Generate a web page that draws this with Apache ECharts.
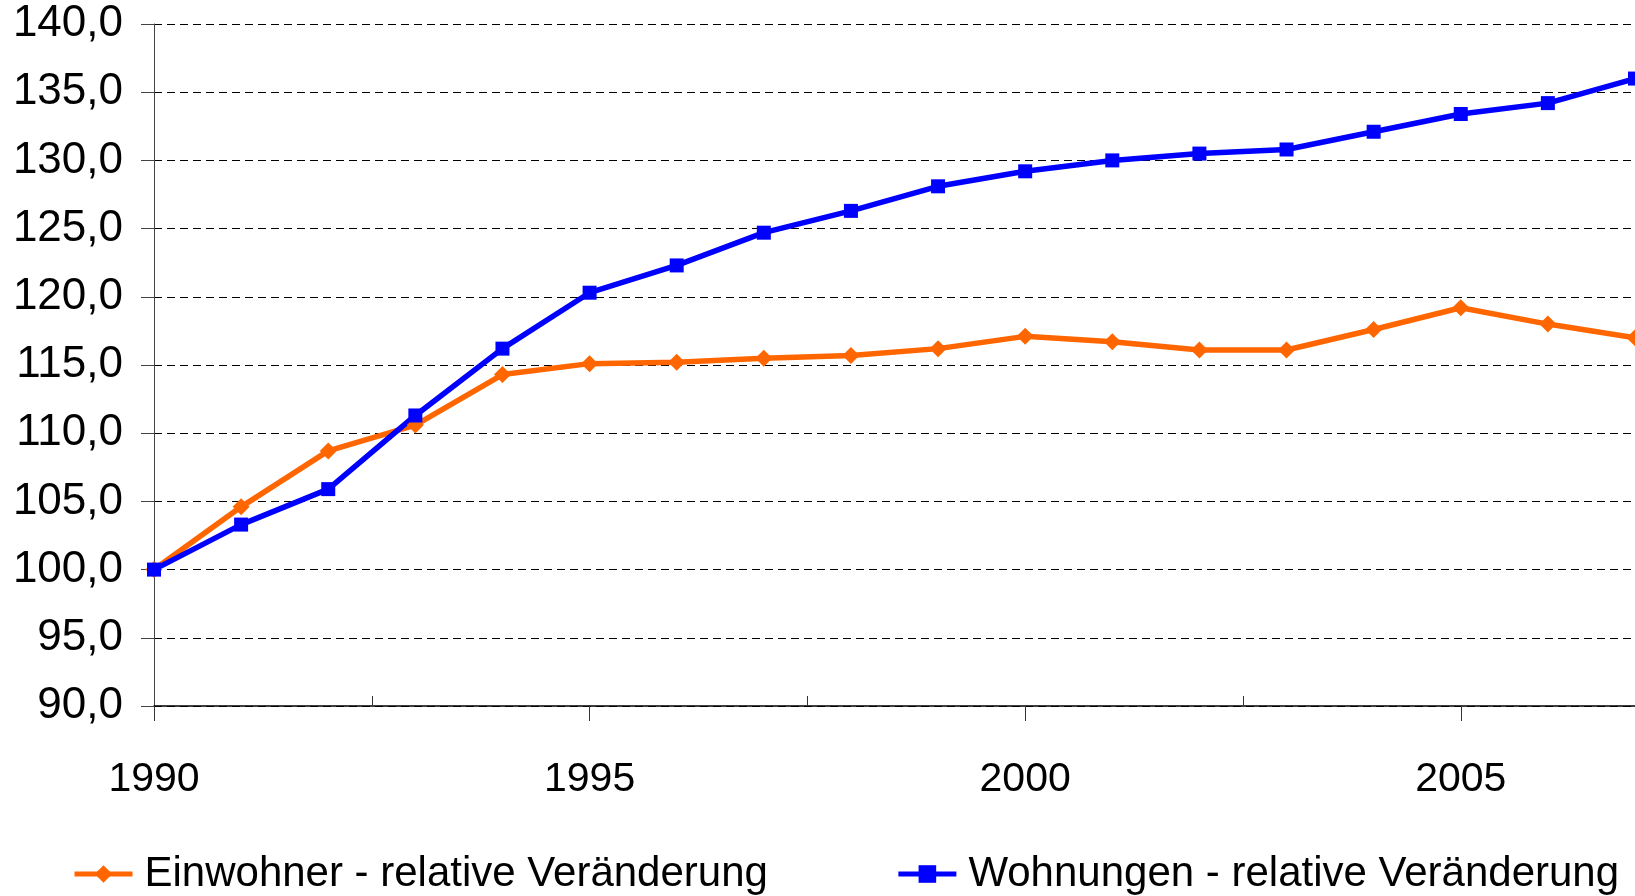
<!DOCTYPE html>
<html>
<head>
<meta charset="utf-8">
<script src="https://cdn.jsdelivr.net/npm/echarts@6/dist/echarts.min.js"></script>
<style>
html, body { margin: 0; padding: 0; background: #fff; }
#chart { width: 1635px; height: 896px; }
</style>
</head>
<body>
<div id="chart"></div>
<script>
var years = [1990, 1991, 1992, 1993, 1994, 1995, 1996, 1997, 1998, 1999, 2000, 2001, 2002, 2003, 2004, 2005, 2006, 2007];
var einwohner = [100.0, 104.6, 108.7, 110.6, 114.3, 115.1, 115.2, 115.5, 115.7, 116.2, 117.1, 116.7, 116.1, 116.1, 117.6, 119.2, 118.0, 117.0];
var wohnungen = [100.0, 103.3, 105.9, 111.3, 116.2, 120.3, 122.3, 124.7, 126.3, 128.1, 129.2, 130.0, 130.5, 130.8, 132.1, 133.4, 134.2, 136.0];
var seriesNames = ['Einwohner - relative Veränderung', 'Wohnungen - relative Veränderung'];
var majorYears = [1990, 1995, 2000, 2005];
var minorYears = [1992.5, 1997.5, 2002.5];

function pairs(vals) {
    return years.map(function (y, i) { return [y, vals[i]]; });
}

var dom = document.getElementById('chart');
var myChart = echarts.init(dom);
var font = 'Liberation Sans, Arial, sans-serif';

var option = {
    animation: false,
    backgroundColor: '#fff',
    grid: { left: 154, top: 24, right: -7, bottom: 190 },
    legend: {
        left: 72,
        top: 853,
        padding: 0,
        itemWidth: 58,
        itemHeight: 22,
        itemGap: 128,
        lineStyle: { width: 5 },
        textStyle: { fontFamily: font, fontSize: 42, color: '#000', padding: [0, 0, 0, 7] },
        data: seriesNames
    },
    xAxis: [
        {
            type: 'value',
            min: 1990,
            max: 2007,
            interval: 5,
            axisLine: { onZero: false, lineStyle: { color: '#000', width: 1.5 } },
            axisTick: { inside: false, length: 15, lineStyle: { color: '#333' }, customValues: majorYears },
            axisLabel: {
                fontFamily: font, fontSize: 41, color: '#000', margin: 53,
                customValues: majorYears,
                formatter: function (v) { return String(v); }
            },
            splitLine: { show: false }
        },
        {
            type: 'value',
            min: 1990,
            max: 2007,
            position: 'bottom',
            axisLine: { show: false, onZero: false },
            axisTick: { inside: true, length: 10, lineStyle: { color: '#333' }, customValues: minorYears },
            axisLabel: { show: false },
            splitLine: { show: false }
        }
    ],
    yAxis: {
        type: 'value',
        min: 90,
        max: 140,
        interval: 5,
        axisLine: { show: true, lineStyle: { color: '#444', width: 1 } },
        axisTick: { show: true, length: 13, lineStyle: { color: '#444' } },
        axisLabel: {
            fontFamily: font, fontSize: 44, color: '#000', margin: 31,
            formatter: function (v) { return v.toFixed(1).replace('.', ','); }
        },
        splitLine: { show: true, lineStyle: { color: '#000', type: [8, 5], width: 1 } }
    },
    series: [
        {
            name: seriesNames[0],
            type: 'line',
            data: pairs(einwohner),
            symbol: 'diamond',
            symbolSize: 17,
            color: '#FF6600',
            lineStyle: { width: 5.5, color: '#FF6600' },
            itemStyle: { color: '#FF6600' }
        },
        {
            name: seriesNames[1],
            type: 'line',
            data: pairs(wohnungen),
            symbol: 'rect',
            symbolSize: 14,
            color: '#0000FF',
            lineStyle: { width: 5.5, color: '#0000FF' },
            itemStyle: { color: '#0000FF' }
        }
    ]
};
myChart.setOption(option, true);
</script>
</body>
</html>
